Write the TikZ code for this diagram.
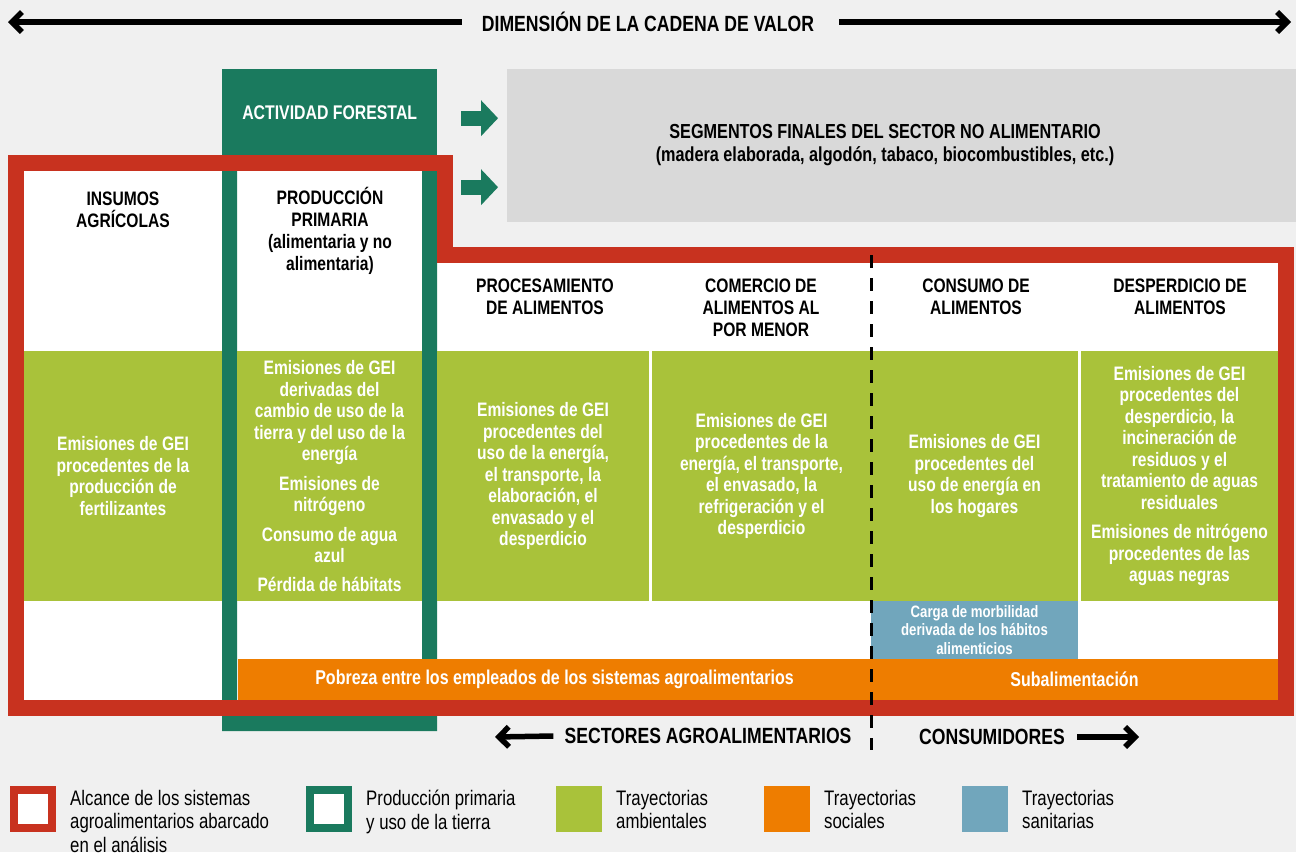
\documentclass[tikz,border=0pt]{standalone}
\usepackage{fontspec}
\setmainfont{Liberation Sans}[FakeStretch=0.8]
\usetikzlibrary{arrows.meta,positioning}

\definecolor{bggray}{HTML}{F0F0F0}
\definecolor{boxgray}{HTML}{D9D9D9}
\definecolor{scopered}{HTML}{C8321F}
\definecolor{landgreen}{HTML}{1A7A5E}
\definecolor{envgreen}{HTML}{A9C23A}
\definecolor{socorange}{HTML}{EE7D00}
\definecolor{healthblue}{HTML}{71A6BC}

\tikzstyle{stage}=[align=center,inner sep=0pt,font=\fontsize{19.5}{22}\selectfont\bfseries]
\tikzstyle{cell}=[rectangle,anchor=north west,inner sep=0pt,outer sep=0pt,align=center,text=white,font=\fontsize{19.5}{21.5}\selectfont\bfseries]
\tikzstyle{envcell}=[cell,fill=envgreen,minimum height=250pt]
\tikzstyle{soccell}=[cell,fill=socorange,minimum height=41pt,font=\fontsize{20}{22}\selectfont\bfseries]
\tikzstyle{valuearrow}=[line width=5.5pt,-{Straight Barb[length=10pt,width=20pt]}]
\tikzstyle{axislabel}=[inner sep=0pt,font=\fontsize{22}{24}\selectfont\bfseries]
\tikzstyle{blockarrow}=[landgreen,line width=15pt,-{Triangle[length=17pt,width=36pt,line width=0pt]}]
\tikzstyle{swatch}=[rectangle,anchor=north west,inner sep=0pt,outer sep=0pt,minimum size=46pt]
\tikzstyle{frameswatch}=[rectangle,anchor=north west,inner sep=0pt,line width=8pt,fill=white,minimum size=38pt]
\tikzstyle{legtext}=[align=left,inner sep=0pt,font=\fontsize{21}{23.5}\selectfont]

\begin{document}
\begin{tikzpicture}[x=1pt,y=-1pt]
\fill[bggray] (0,0) rectangle (1296,852);
\useasboundingbox (0,0) rectangle (1296,852);

% value chain axis
\node (chaintitle)[axislabel] at (648,22) {DIMENSIÓN DE LA CADENA DE VALOR};
\coordinate (chainleft) at (8,22);
\coordinate (chainright) at (1291,22);
\draw [valuearrow] ([xshift=-20pt]chaintitle.west) -- (chainleft);
\draw [valuearrow] ([xshift=25pt]chaintitle.east) -- (chainright);

% non-food segments
\node (nonfood)[rectangle,anchor=north west,fill=boxgray,minimum width=789pt,minimum height=153pt] at (507,69) {};
\node (nonfoodtext)[stage,font=\fontsize{20.3}{23}\selectfont\bfseries] at (885,145) {SEGMENTOS FINALES DEL SECTOR NO ALIMENTARIO\\(madera elaborada, algodón, tabaco, biocombustibles, etc.)};

% inside of the scope frame
\fill[white] (24,171) -- (437,171) -- (437,263) -- (1278,263) -- (1278,700) -- (24,700) -- cycle;

% primary production column
\node (forestal)[rectangle,anchor=north west,fill=landgreen,minimum width=215pt,minimum height=86pt,text=white,font=\fontsize{19.8}{22}\selectfont\bfseries] at (222,69) {ACTIVIDAD FORESTAL};
\fill[landgreen] (222,155) rectangle (237,731) (422,155) rectangle (437,731) (222,716) rectangle (437,731);

% stages
\node (inputs)[stage] at (123,210) {INSUMOS\\AGRÍCOLAS};
\node (primary)[stage] at (330,231) {PRODUCCIÓN\\PRIMARIA\\(alimentaria y no\\alimentaria)};
\node (processing)[stage] at (545,297) {PROCESAMIENTO\\DE ALIMENTOS};
\node (retail)[stage] at (761,308) {COMERCIO DE\\ALIMENTOS AL\\POR MENOR};
\node (consumption)[stage] at (976,297) {CONSUMO DE\\ALIMENTOS};
\node (waste)[stage] at (1180,297) {DESPERDICIO DE\\ALIMENTOS};

% environmental pathways
\node (inputsenv)[envcell,minimum width=198pt] at (24,351) {Emisiones de GEI\\procedentes de la\\producción de\\fertilizantes};
\node (primaryenv)[envcell,minimum width=185pt] at (237,351) {Emisiones de GEI\\derivadas del\\cambio de uso de la\\tierra y del uso de la\\energía\\[8pt]Emisiones de\\nitrógeno\\[8pt]Consumo de agua\\azul\\[7pt]Pérdida de hábitats};
\node (processingenv)[envcell,minimum width=212pt] at (437,351) {Emisiones de GEI\\procedentes del\\uso de la energía,\\el transporte, la\\elaboración, el\\envasado y el\\desperdicio};
\node (retailenv)[envcell,minimum width=219pt] at (652,351) {Emisiones de GEI\\procedentes de la\\energía, el transporte,\\el envasado, la\\refrigeración y el\\desperdicio};
\node (consumptionenv)[envcell,minimum width=207pt] at (871,351) {Emisiones de GEI\\procedentes del\\uso de energía en\\los hogares};
\node (wasteenv)[envcell,minimum width=197pt] at (1081,351) {Emisiones de GEI\\procedentes del\\desperdicio, la\\incineración de\\residuos y el\\tratamiento de aguas\\residuales\\[8pt]Emisiones de nitrógeno\\procedentes de las\\aguas negras};

% health and social pathways
\node (health)[cell,fill=healthblue,minimum width=207pt,minimum height=58pt,font=\fontsize{16.5}{18.5}\selectfont\bfseries] at (871,601) {Carga de morbilidad\\derivada de los hábitos\\alimenticios};
\node (poverty)[soccell,minimum width=633pt] at (238,659) {Pobreza entre los empleados de los sistemas agroalimentarios};
\node (undernourish)[soccell,minimum width=407pt] at (871,659) {Subalimentación};

% scope of the agrifood systems
\draw[scopered,line width=16pt] (16,163) -- (444.5,163) -- (444.5,255) -- (1286,255) -- (1286,708) -- (16,708) -- cycle;

% arrows to the non-food segments
\draw [blockarrow,shorten <=24pt,shorten >=9pt] ([yshift=-6pt]forestal.east) -- ([yshift=-6pt]nonfood.west |- forestal.east);
\draw [blockarrow,shorten <=24pt,shorten >=9pt] ([yshift=-75pt]forestal.east) -- ([yshift=-75pt]nonfood.west |- forestal.east);

% agrifood sectors / consumers
\coordinate (divtop) at (871,255);
\coordinate (divbot) at (871,750);
\draw [line width=3pt,dash pattern=on 13pt off 10pt] (divtop) -- (divbot);
\node (agrisectors)[axislabel] at (708,736) {SECTORES AGROALIMENTARIOS};
\node (consumers)[axislabel] at (992,737) {CONSUMIDORES};
\coordinate (agriend) at (495,737);
\coordinate (consend) at (1139,737);
\draw [valuearrow] ([xshift=-11pt]agrisectors.west) -- (agriend);
\draw [valuearrow] ([xshift=12pt]consumers.east) -- (consend);

% legend
\node (legscope)[frameswatch,draw=scopered] at (10,786) {};
\node (legland)[frameswatch,draw=landgreen] at (306,786) {};
\node (legenv)[swatch,fill=envgreen] at (556,786) {};
\node (legsoc)[swatch,fill=socorange] at (764,786) {};
\node (leghealth)[swatch,fill=healthblue] at (962,786) {};
\node (legscopetext)[legtext,below right=4pt and 14pt of legscope.north east] {Alcance de los sistemas\\agroalimentarios abarcado\\en el análisis};
\node (leglandtext)[legtext,below right=4pt and 14pt of legland.north east] {Producción primaria\\y uso de la tierra};
\node (legenvtext)[legtext,below right=4pt and 14pt of legenv.north east] {Trayectorias\\ambientales};
\node (legsoctext)[legtext,below right=4pt and 14pt of legsoc.north east] {Trayectorias\\sociales};
\node (leghealthtext)[legtext,below right=4pt and 14pt of leghealth.north east] {Trayectorias\\sanitarias};
\end{tikzpicture}
\end{document}
